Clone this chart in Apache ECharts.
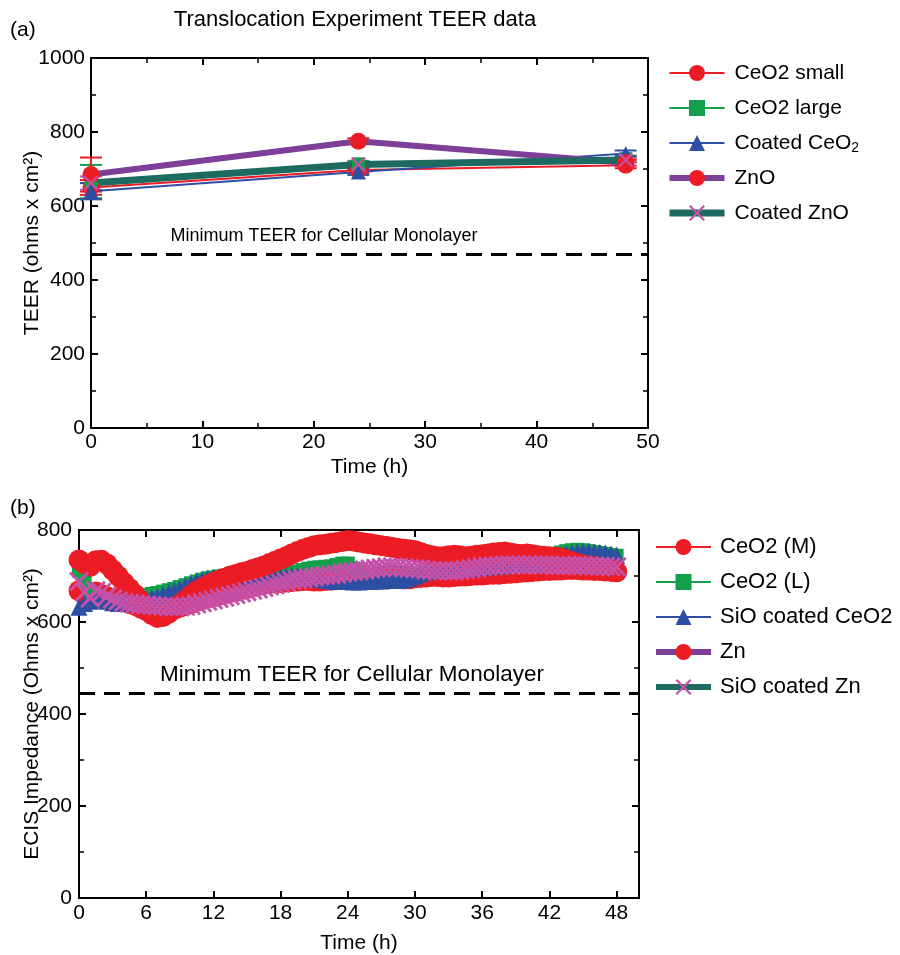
<!DOCTYPE html>
<html><head><meta charset="utf-8">
<script src="https://cdn.jsdelivr.net/npm/echarts@6/dist/echarts.min.js"></script>
<style>html,body{margin:0;padding:0;background:#fff}#c{width:900px;height:955px}</style>
</head><body><div id="c"></div>
<script>
// ---------- Panel (a) data ----------
const timesA = [0, 24, 48];
const ceo2SmallA = [650, 697, 710];
const ceo2LargeA = [666, 714, 728];
const coatedCeo2A = [640, 692, 742];
const znoA = [685, 775, 717];
const coatedZnoA = [662, 712, 724];
const errCeo2SmallA = [20, 8, 8];
const errCeo2LargeA = [45, 8, 8];
const errCoatedCeo2A = [22, 8, 8];
const errZnoA = [46, 8, 8];
const errCoatedZnoA = [18, 6, 6];
const minTeerA = 470;
const xTicksA = [0, 10, 20, 30, 40, 50];
const yTicksA = [0, 200, 400, 600, 800, 1000];

// ---------- Panel (b) data ----------
const timesB = [0,0.5,1,1.5,2,2.5,3,3.5,4,4.5,5,5.5,6,6.5,7,7.5,8,8.5,9,9.5,10,10.5,11,11.5,12,12.5,13,13.5,14,14.5,15,15.5,16,16.5,17,17.5,18,18.5,19,19.5,20,20.5,21,21.5,22,22.5,23,23.5,24,24.5,25,25.5,26,26.5,27,27.5,28,28.5,29,29.5,30,30.5,31,31.5,32,32.5,33,33.5,34,34.5,35,35.5,36,36.5,37,37.5,38,38.5,39,39.5,40,40.5,41,41.5,42,42.5,43,43.5,44,44.5,45,45.5,46,46.5,47,47.5,48];
const ceo2M = [668,660,662,665,660,655,650,647,644,640, 636,630,625,620,618,620,624,628,632,636, 640,645,649,653,656,659,662,665,668,671, 674,677,680,682,684,685,686,687,688,689, 690,690,689,689,690,691,692,693,694,694, 695,695,694,694,695,696,696,695,694,694, 696,697,698,699,699,698,698,699,700,700, 701,702,702,703,704,704,705,706,707,708, 709,710,711,712,712,713,713,714,714,714, 713,713,712,712,711,710,709];
const ceo2L = [712,690,660,655,652,648,645,643,643,645, 648,653,658,661,663,666,669,672,676,680, 684,688,692,695,697,699,700,701,702,702, 701,700,699,699,700,701,703,705,707,710, 713,716,718,719,720,721,724,727,727,716, 710,705,700,697,695,694,694,694,695,698, 702,706,710,712,713,714,715,716,716,717, 718,719,720,721,722,723,724,725,726,727, 729,731,734,737,741,746,751,754,756,757, 756,754,752,750,748,746,744];
const sioCeo2 = [632,640,645,650,648,645,642,640,640,641, 643,646,650,653,656,660,664,668,673,678, 683,688,692,695,697,699,700,702,703,702, 700,698,696,695,695,696,698,699,700,700, 699,697,695,693,691,689,688,688,688,687, 687,688,688,689,689,690,690,691,692,695, 700,705,709,712,713,714,715,715,716,716, 717,718,719,720,721,722,723,724,725,726, 727,729,731,734,737,741,745,748,751,752, 753,753,752,751,750,748,745];
const zn = [735,727,721,733,734,726,713,700,686,673, 660,646,630,616,610,612,619,628,638,648, 658,667,674,680,686,691,695,700,703,707, 710,714,718,722,727,732,737,742,748,753, 758,762,766,768,769,771,773,775,777,776, 774,772,770,768,766,764,762,760,758,757, 755,751,747,744,742,742,744,745,744,742, 743,745,746,748,750,751,752,750,748,747, 748,746,744,743,742,741,739,735,731,727, 724,722,720,718,716,713,710];
const sioZn = [688,665,652,668,664,656,650,646,643,641, 639,638,637,636,635,634,633,633,633,634, 636,639,642,645,648,651,654,657,660,663, 666,669,672,675,678,681,684,687,690,692, 694,696,698,700,701,702,704,706,708,710, 711,713,715,717,718,720,720,719,718,717, 716,715,713,712,711,711,711,711,712,714, 716,718,720,721,722,723,724,724,724,724, 724,724,724,724,724,723,723,723,723,723, 723,722,722,721,721,720,720];
const minTeerB = 445;
const xTicksB = [0, 6, 12, 18, 24, 30, 36, 42, 48];
const yTicksB = [0, 200, 400, 600, 800];

// ---------- styling ----------
const FONT = '"Liberation Sans", Arial, Helvetica, sans-serif';
const RED = '#ec1c24', GREEN = '#12a04a', BLUE = '#2d4fa3', PURPLE = '#7d3f98', TEAL = '#1c6a60', PINK = '#c651a8';
const XSYM = 'path://M0,1 L1,0 L5,4 L9,0 L10,1 L6,5 L10,9 L9,10 L5,6 L1,10 L0,9 L4,5 Z';

const chart = echarts.init(document.getElementById('c'), null, {renderer: 'canvas'});

function xAxis(grid, pos, ticks, minorSplit, showLabels, name, nameGap, labelMargin) {
  const max = ticks[ticks.length - 1] + (grid === 1 ? 2 : 0);
  return {
    type: 'value', gridIndex: grid, position: pos,
    min: ticks[0], max: max, interval: ticks[1] - ticks[0],
    axisLine: {show: true, onZero: false, lineStyle: {color: '#000', width: 2}},
    axisTick: {show: true, inside: true, length: 7, lineStyle: {color: '#000', width: 2}},
    minorTick: {show: minorSplit > 0, splitNumber: minorSplit || 2, length: 5, lineStyle: {color: '#000', width: 1.5}},
    splitLine: {show: false},
    axisLabel: {show: showLabels, margin: labelMargin, fontSize: 21, fontFamily: FONT, color: '#000',
      hideOverlap: false,
      formatter: v => (ticks.indexOf(v) >= 0 ? String(v) : '')},
    name: name, nameLocation: 'middle', nameGap: nameGap, nameMoveOverlap: false,
    nameTextStyle: {fontSize: 21, fontFamily: FONT, color: '#000'}
  };
}
function yAxis(grid, pos, ticks, showLabels, name, nameGap, labelMargin) {
  return {
    type: 'value', gridIndex: grid, position: pos,
    min: ticks[0], max: ticks[ticks.length - 1], interval: ticks[1] - ticks[0],
    axisLine: {show: true, onZero: false, lineStyle: {color: '#000', width: 2}},
    axisTick: {show: true, inside: true, length: 7, lineStyle: {color: '#000', width: 2}},
    minorTick: {show: true, splitNumber: 2, length: 5, lineStyle: {color: '#000', width: 1.5}},
    splitLine: {show: false},
    axisLabel: {show: showLabels, margin: labelMargin, fontSize: 21, fontFamily: FONT, color: '#000',
      formatter: v => String(v)},
    name: name, nameLocation: 'middle', nameGap: nameGap, nameMoveOverlap: false,
    nameTextStyle: {fontSize: 21, fontFamily: FONT, color: '#000'}
  };
}

function lineSeries(name, xs, ys, xi, yi, lineColor, lw, symbol, symSize, symColor, extra) {
  return Object.assign({
    name: name, type: 'line', xAxisIndex: xi, yAxisIndex: yi,
    data: xs.map((t, i) => [t, ys[i]]),
    symbol: symbol, symbolSize: symSize, showSymbol: true,
    lineStyle: {color: lineColor, width: lw},
    itemStyle: {color: symColor, borderWidth: 0, opacity: 1},
    emphasis: {disabled: true}, animation: false
  }, extra || {});
}

function errSeries(xs, ys, es, color) {
  return {
    type: 'custom', xAxisIndex: 0, yAxisIndex: 0, silent: true, animation: false,
    data: xs.map((t, i) => [t, ys[i] - es[i], ys[i] + es[i]]),
    encode: {x: 0, y: [1, 2]},
    renderItem: function (params, api) {
      const x = api.value(0);
      const lo = api.coord([x, api.value(1)]);
      const hi = api.coord([x, api.value(2)]);
      const w = 11;
      const st = {stroke: color, lineWidth: 2};
      return {type: 'group', children: [
        {type: 'line', shape: {x1: hi[0], y1: hi[1], x2: lo[0], y2: lo[1]}, style: st},
        {type: 'line', shape: {x1: hi[0] - w, y1: hi[1], x2: hi[0] + w, y2: hi[1]}, style: st},
        {type: 'line', shape: {x1: lo[0] - w, y1: lo[1], x2: lo[0] + w, y2: lo[1]}, style: st}
      ]};
    }
  };
}

const dashA = {silent: true, symbol: ['none', 'none'], animation: false,
  lineStyle: {color: '#000', width: 3, type: [16, 9]}, label: {show: false},
  data: [{yAxis: minTeerA}]};
const dashB = {silent: true, symbol: ['none', 'none'], animation: false,
  lineStyle: {color: '#000', width: 3, type: [16, 9]}, label: {show: false},
  data: [{yAxis: minTeerB}]};

const legendTextA = {fontSize: 21, fontFamily: FONT, color: '#000', lineHeight: 24, padding: [0, 0, 0, 5],
  rich: {sub: {fontSize: 14, fontFamily: FONT, color: '#000', verticalAlign: 'bottom', lineHeight: 24}}};
const legendTextB = {fontSize: 22, fontFamily: FONT, color: '#000', lineHeight: 24, padding: [0, 0, 0, 4]};

const option = {
  backgroundColor: '#fff',
  animation: false,
  grid: [
    {left: 91, top: 58, width: 557, height: 370, outerBoundsMode: 'none', containLabel: false},
    {left: 79, top: 530, width: 560, height: 368, outerBoundsMode: 'none', containLabel: false}
  ],
  xAxis: [
    xAxis(0, 'bottom', xTicksA, 2, true, 'Time (h)', 29, 4),
    xAxis(0, 'top', xTicksA, 2, false, '', 0, 4),
    xAxis(1, 'bottom', xTicksB, 0, true, 'Time (h)', 35, 5),
    xAxis(1, 'top', xTicksB, 0, false, '', 0, 5)
  ],
  yAxis: [
    yAxis(0, 'left', yTicksA, true, 'TEER (ohms x cm²)', 48, 6),
    yAxis(0, 'right', yTicksA, false, '', 0, 6),
    yAxis(1, 'left', yTicksB, true, 'ECIS Impedance (Ohms x cm²)', 36, 7),
    yAxis(1, 'right', yTicksB, false, '', 0, 7)
  ],
  legend: [
    {left: 661, top: 56, orient: 'vertical', itemWidth: 55, itemHeight: 20, itemGap: 11,
     selectedMode: false,
     data: [
       {name: 'CeO2 small', lineStyle: {width: 2}},
       {name: 'CeO2 large', lineStyle: {width: 2}},
       {name: 'Coated CeO2', lineStyle: {width: 2}},
       {name: 'ZnO', lineStyle: {width: 6}},
       {name: 'Coated ZnO', lineStyle: {width: 7}}
     ],
     formatter: n => (n === 'Coated CeO2' ? 'Coated CeO{sub|2}' : n),
     textStyle: legendTextA},
    {left: 648, top: 530, orient: 'vertical', itemWidth: 55, itemHeight: 20, itemGap: 11,
     selectedMode: false,
     data: [
       {name: 'CeO2 (M)', lineStyle: {width: 2}},
       {name: 'CeO2 (L)', lineStyle: {width: 2}},
       {name: 'SiO coated CeO2', lineStyle: {width: 2}},
       {name: 'Zn', lineStyle: {width: 6}},
       {name: 'SiO coated Zn', lineStyle: {width: 6}}
     ],
     textStyle: legendTextB}
  ],
  graphic: [
    {type: 'text', x: 355, y: 20, style: {text: 'Translocation Experiment TEER data', fontSize: 22, fontFamily: FONT, fill: '#000', align: 'center', verticalAlign: 'middle'}},
    {type: 'text', x: 10, y: 30, style: {text: '(a)', fontSize: 21, fontFamily: FONT, fill: '#000', align: 'left', verticalAlign: 'middle'}},
    {type: 'text', x: 10, y: 508, style: {text: '(b)', fontSize: 21, fontFamily: FONT, fill: '#000', align: 'left', verticalAlign: 'middle'}},
    {type: 'text', x: 324, y: 236, style: {text: 'Minimum TEER for Cellular Monolayer', fontSize: 18, fontFamily: FONT, fill: '#000', align: 'center', verticalAlign: 'middle'}},
    {type: 'text', x: 352, y: 675, style: {text: 'Minimum TEER for Cellular Monolayer', fontSize: 22.5, fontFamily: FONT, fill: '#000', align: 'center', verticalAlign: 'middle'}}
  ],
  series: [
    // panel (a)
    errSeries(timesA, ceo2SmallA, errCeo2SmallA, RED),
    errSeries(timesA, ceo2LargeA, errCeo2LargeA, GREEN),
    errSeries(timesA, coatedCeo2A, errCoatedCeo2A, BLUE),
    errSeries(timesA, znoA, errZnoA, RED),
    errSeries(timesA, coatedZnoA, errCoatedZnoA, PINK),
    lineSeries('CeO2 small', timesA, ceo2SmallA, 0, 0, RED, 2, 'circle', 17, RED, {markLine: dashA}),
    lineSeries('CeO2 large', timesA, ceo2LargeA, 0, 0, GREEN, 2, 'rect', 13, GREEN),
    lineSeries('Coated CeO2', timesA, coatedCeo2A, 0, 0, BLUE, 2, 'triangle', 15, BLUE),
    lineSeries('ZnO', timesA, znoA, 0, 0, PURPLE, 6, 'circle', 17, RED),
    lineSeries('Coated ZnO', timesA, coatedZnoA, 0, 0, TEAL, 7, XSYM, 15, PINK),
    // panel (b)
    lineSeries('CeO2 (M)', timesB, ceo2M, 2, 2, RED, 2, 'circle', 21, RED, {markLine: dashB}),
    lineSeries('CeO2 (L)', timesB, ceo2L, 2, 2, GREEN, 2, 'rect', 14, GREEN),
    lineSeries('SiO coated CeO2', timesB, sioCeo2, 2, 2, BLUE, 2, 'triangle', 17, BLUE),
    lineSeries('Zn', timesB, zn, 2, 2, PURPLE, 5, 'circle', 21, RED),
    lineSeries('SiO coated Zn', timesB, sioZn, 2, 2, TEAL, 5, XSYM, 20, PINK)
  ]
};
chart.setOption(option);
</script>
</body></html>
